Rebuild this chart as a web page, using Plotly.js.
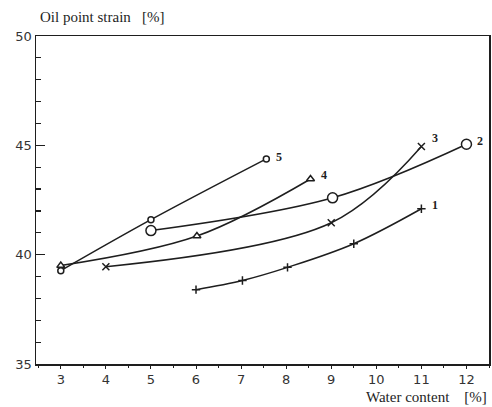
<!DOCTYPE html>
<html>
<head>
<meta charset="utf-8">
<script src="https://cdn.plot.ly/plotly-3.0.1.min.js"></script>
<style>html,body{margin:0;padding:0;background:#fff;}#chart{width:492px;height:407px;}</style>
</head>
<body>
<div id="chart"></div>
<script>
// Data
var s1x = [6.0, 7.03, 8.03, 9.5, 11.0];
var s1y = [38.4, 38.82, 39.42, 40.5, 42.1];
var s2x = [5.0, 9.03, 12.0];
var s2y = [41.1, 42.6, 45.05];
var s3x = [4.0, 9.0, 11.0];
var s3y = [39.45, 41.46, 44.95];
var s4x = [3.0, 6.02, 8.54];
var s4y = [39.5, 40.85, 43.46];
var s5x = [3.0, 5.0, 7.56];
var s5y = [39.27, 41.6, 44.38];
var seriesLabels = ['1', '2', '3', '4', '5'];
var xTicks = [3, 4, 5, 6, 7, 8, 9, 10, 11, 12];
var yTicks = [35, 40, 45, 50];

var ink = '#1e1e1e';
var lineStyle = {color: ink, width: 1.5, shape: 'spline', smoothing: 1};

function trace(x, y, sym, size) {
  return {
    x: x, y: y, type: 'scatter', mode: 'lines+markers',
    line: lineStyle,
    marker: {symbol: sym, size: size, color: '#ffffff', line: {color: ink, width: 1.5}},
    hoverinfo: 'none', showlegend: false, cliponaxis: false
  };
}

var data = [
  trace(s1x, s1y, 'cross-thin', 6),
  trace(s2x, s2y, 'circle', 10),
  trace(s3x, s3y, 'x-thin', 7),
  trace(s4x, s4y, 'triangle-up', 7),
  trace(s5x, s5y, 'circle', 6)
];

var ends = [[s1x, s1y], [s2x, s2y], [s3x, s3y], [s4x, s4y], [s5x, s5y]];
var shifts = [[14, 4], [14, 3], [14, 8], [13, 4], [13, 2]];
var annotations = ends.map(function (e, i) {
  var n = e[0].length - 1;
  return {
    x: e[0][n], y: e[1][n], xref: 'x', yref: 'y', text: '<b>' + seriesLabels[i] + '</b>',
    showarrow: false, xshift: shifts[i][0], yshift: shifts[i][1],
    font: {family: 'Liberation Serif', size: 12, color: ink}
  };
});
annotations.push({
  xref: 'paper', yref: 'paper', x: 1.0, y: -(407 - 364) / 328, xanchor: 'right', yanchor: 'bottom',
  text: 'Water content&nbsp;&nbsp;&nbsp;&nbsp;[%]', showarrow: false,
  font: {family: 'Liberation Serif', size: 15, color: ink}
});

var layout = {
  width: 492, height: 407,
  margin: {l: 36, r: 3, t: 36, b: 43},
  paper_bgcolor: '#fff', plot_bgcolor: '#fff',
  title: {
    text: 'Oil point strain&nbsp;&nbsp;&nbsp;[%]', xref: 'container', yref: 'container',
    x: 40 / 492, xanchor: 'left', y: 1 - 17 / 407, yanchor: 'middle',
    font: {family: 'Liberation Serif', size: 15, color: ink}
  },
  xaxis: {
    range: [2.45, 12.5], tickvals: xTicks, ticktext: xTicks.map(String),
    showgrid: false, zeroline: false,
    showline: true, mirror: true, linecolor: ink, linewidth: 1.5,
    ticks: 'outside', ticklen: 3, tickwidth: 1, tickcolor: ink,
    minor: {dtick: 0.5, tick0: 0, ticks: 'outside', ticklen: 2, tickcolor: ink, showgrid: false},
    tickfont: {family: 'DejaVu Sans', size: 13, color: '#333'}
  },
  yaxis: {
    range: [35, 50], tickvals: yTicks, ticktext: yTicks.map(String),
    showgrid: false, zeroline: false,
    showline: true, mirror: true, linecolor: ink, linewidth: 1.5,
    ticks: 'inside', ticklen: 9, tickwidth: 1.2, tickcolor: ink,
    minor: {dtick: 1, tick0: 0, ticks: 'inside', ticklen: 5, tickcolor: ink, showgrid: false},
    tickfont: {family: 'DejaVu Sans', size: 13, color: '#333'}
  },
  annotations: annotations
};

Plotly.newPlot('chart', data, layout, {displayModeBar: false, staticPlot: true});
</script>
</body>
</html>
